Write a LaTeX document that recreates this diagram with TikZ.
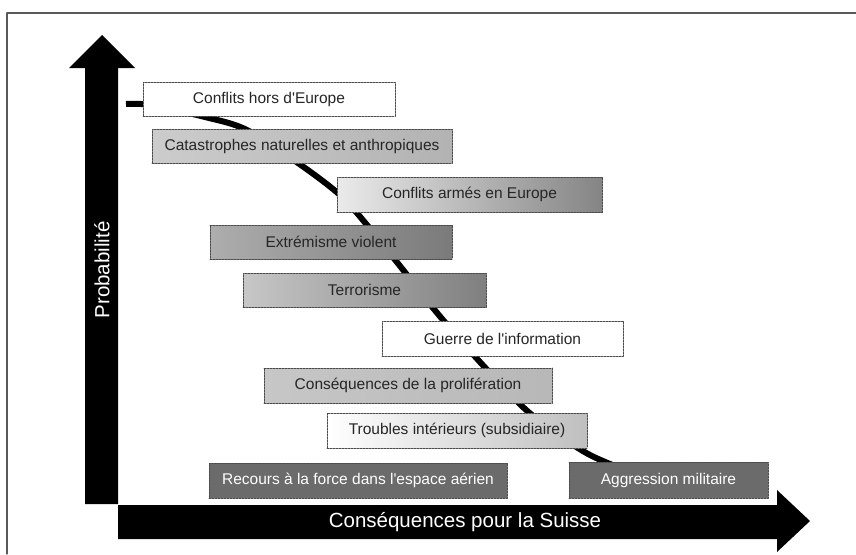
\documentclass[tikz,border=0pt]{standalone}
\usepackage{fontspec}
\setmainfont{Liberation Sans}[Ligatures=TeXOff]
\usepackage{tikz}
\usetikzlibrary{arrows}

\begin{document}
\begin{tikzpicture}[line cap=round,line join=round,x=1pt,y=-1pt,
  risk/.style={draw=black!70,line width=0.8pt,dash pattern=on 2pt off 1pt,inner sep=0pt,text=black!85,font=\fontsize{15.5}{18}\selectfont},
  axislabel/.style={text=white,font=\fontsize{20.5}{24}\selectfont}]
\useasboundingbox (0,0) rectangle (856,554);
\draw[black!65,line width=1.2pt] (7,554)-- (7,13)-- (856,13);
% axes
\fill (85,504)-- (85,68)-- (69,68)-- (102,35)-- (135,68)-- (118,68)-- (118,504)-- cycle;
\fill (118,505)-- (777,505)-- (777,490)-- (810,521)-- (777,552)-- (777,539)-- (118,539)-- cycle;
\node[axislabel,rotate=90] (proba) at (102,270) {Probabilité};
\node[axislabel] (csq) at (465,522) {Conséquences pour la Suisse};
% trend
\draw[line width=6pt,line cap=butt] plot[smooth,tension=0.55] coordinates {(126,104) (150,105) (205,117) (247,130) (298,163) (340,195) (367,225) (400,266) (438,314) (480,362) (524,408) (560,436) (590,455) (620,468)};
% risks
\node[risk,fill=white,minimum width=252,minimum height=34] (hors) at (269,99) {Conflits hors d'Europe};
\node[risk,left color=black!20,right color=black!30,minimum width=300,minimum height=34] (catas) at (302,146) {Catastrophes naturelles et anthropiques};
\node[risk,left color=black!8,right color=black!48,minimum width=265,minimum height=35] (armes) at (469.5,194.5) {Conflits armés en Europe};
\node[risk,left color=black!32,right color=black!52,minimum width=242,minimum height=34] (extrem) at (331,242) {Extrémisme violent};
\node[risk,left color=black!22,right color=black!50,minimum width=243,minimum height=34] (terror) at (364.5,290) {Terrorisme};
\node[risk,fill=white,minimum width=241,minimum height=35] (guerre) at (502.5,338.5) {Guerre de l'information};
\node[risk,left color=black!22,right color=black!28,minimum width=288,minimum height=35] (prolif) at (408,385.5) {Conséquences de la prolifération};
\node[risk,left color=white,right color=black!25,minimum width=260,minimum height=35] (troubles) at (457,430.5) {Troubles intérieurs (subsidiaire)};
\node[risk,fill=black!58,text=white,minimum width=298,minimum height=35] (recours) at (358,480.5) {Recours à la force dans l'espace aérien};
\node[risk,fill=black!58,text=white,minimum width=199,minimum height=36] (aggr) at (668.5,480) {Aggression militaire};
\end{tikzpicture}
\end{document}
